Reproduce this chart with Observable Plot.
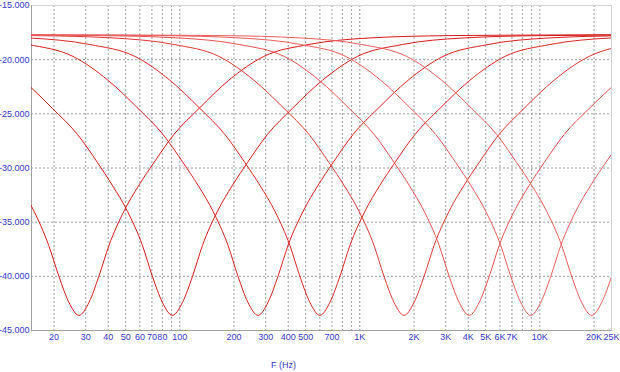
<!DOCTYPE html>
<html><head><meta charset="utf-8">
<script src="https://cdn.jsdelivr.net/npm/d3@7"></script>
<script src="https://cdn.jsdelivr.net/npm/@observablehq/plot@0.6"></script>
<style>body{margin:0;background:#fff}</style>
</head><body><div id="chart"></div>
<script>
const xDomain = [15, 25000];
const yDomain = [-45, -15];
const yTicks = [-45, -40, -35, -30, -25, -20, -15];
const yGridTicks = [-40, -35, -30, -25, -20];
const xLabelTicks = [20, 30, 40, 50, 60, 70, 80, 100, 200, 300, 400, 500, 700, 1000, 2000, 3000, 4000, 5000, 6000, 7000, 10000, 20000, 25000];
const xGridTicks = [20, 30, 40, 50, 60, 70, 80, 90, 100, 200, 300, 400, 500, 600, 700, 800, 900, 1000, 2000, 3000, 4000, 5000, 6000, 7000, 8000, 9000, 10000, 20000];

const notch27 = [[12.8,-31.6],[15.5,-34.0],[18.7,-37.15],[21.3,-40.0],[24.2,-42.4],[27.5,-43.6],[31.3,-42.4],[35.5,-40.0],[40.4,-37.15],[48.9,-34.0],[59.2,-31.6],[71.8,-29.5],[92.8,-26.9],[128,-24.5],[187,-21.9],[293,-19.7],[521,-18.6],[1123,-18.0],[3124,-17.78],[12760,-17.72],[30000,-17.7]];
const notch91 = [[8.5,-19.7],[13.4,-21.9],[19.6,-24.5],[27.0,-26.9],[34.9,-29.5],[42.2,-31.6],[51.2,-34.0],[62.0,-37.15],[70.4,-40.0],[80.0,-42.4],[91,-43.6],[103.5,-42.4],[117.6,-40.0],[133.6,-37.15],[161.8,-34.0],[196,-31.6],[237.5,-29.5],[307,-26.9],[422,-24.5],[620,-21.9],[970,-19.7],[1725,-18.6],[3716,-18.0],[10340,-17.78],[42200,-17.72]];
const notch272 = [[6.66,-18.0],[14.35,-18.6],[25.5,-19.7],[39.9,-21.9],[58.6,-24.5],[80.6,-26.9],[104.2,-29.5],[126.3,-31.6],[153,-34.0],[185.3,-37.15],[210.5,-40.0],[239,-42.4],[272,-43.6],[309,-42.4],[351,-40.0],[399,-37.15],[484,-34.0],[586,-31.6],[710,-29.5],[917,-26.9],[1263,-24.5],[1853,-21.9],[2900,-19.7],[5157,-18.6],[11110,-18.0],[30900,-17.78]];
const notch600 = [[5.28,-17.78],[14.7,-18.0],[31.6,-18.6],[56.3,-19.7],[88.1,-21.9],[129.3,-24.5],[177.9,-26.9],[229.9,-29.5],[278.6,-31.6],[337.5,-34.0],[408.7,-37.15],[464.4,-40.0],[527.7,-42.4],[600,-43.6],[682,-42.4],[775,-40.0],[881,-37.15],[1067,-34.0],[1292,-31.6],[1566,-29.5],[2024,-26.9],[2785,-24.5],[4088,-21.9],[6396,-19.7],[11380,-18.6],[24500,-18.0],[68200,-17.78]];
const notch1760 = [[3.8,-17.72],[15.5,-17.78],[43.1,-18.0],[92.8,-18.6],[165,-19.7],[258,-21.9],[379,-24.5],[522,-26.9],[674,-29.5],[817,-31.6],[990,-34.0],[1199,-37.15],[1362,-40.0],[1548,-42.4],[1760,-43.6],[2001,-42.4],[2274,-40.0],[2584,-37.15],[3129,-34.0],[3791,-31.6],[4594,-29.5],[5936,-26.9],[8170,-24.5],[11990,-21.9],[18760,-19.7],[33370,-18.6]];
const notch4050 = [[8.73,-17.72],[35.7,-17.78],[99.2,-18.0],[213.6,-18.6],[380,-19.7],[594,-21.9],[872,-24.5],[1201,-26.9],[1552,-29.5],[1880,-31.6],[2278,-34.0],[2759,-37.15],[3135,-40.0],[3562,-42.4],[4050,-43.6],[4605,-42.4],[5233,-40.0],[5945,-37.15],[7201,-34.0],[8724,-31.6],[10570,-29.5],[13660,-26.9],[18800,-24.5],[27590,-21.9]];
const notch8900 = [[10,-17.7],[19.2,-17.72],[78.3,-17.78],[218,-18.0],[469,-18.6],[835,-19.7],[1306,-21.9],[1917,-24.5],[2639,-26.9],[3410,-29.5],[4132,-31.6],[5006,-34.0],[6063,-37.15],[6889,-40.0],[7828,-42.4],[8900,-43.6],[10120,-42.4],[11500,-40.0],[13070,-37.15],[15820,-34.0],[19170,-31.6],[23230,-29.5],[30020,-26.9]];
const notch19400 = [[10,-17.7],[41.8,-17.72],[170.8,-17.78],[475,-18.0],[1023,-18.6],[1820,-19.7],[2848,-21.9],[4179,-24.5],[5751,-26.9],[7433,-29.5],[9007,-31.6],[10910,-34.0],[13220,-37.15],[15020,-40.0],[17060,-42.4],[19400,-43.6],[22060,-42.4],[25060,-40.0],[28480,-37.15]];

const seriesNames = ["27", "91", "272", "600", "1760", "4050", "8900", "19400"];
const seriesColors = ["#d81818", "#d81818", "#da1e1e", "#dc2424", "#e23434", "#e85050", "#ec5c5c", "#ec5c5c"];
const seriesData = [notch27, notch91, notch272, notch600, notch1760, notch4050, notch8900, notch19400];

const rows = seriesData.flatMap((d, i) => d.map(([f, db]) => ({series: seriesNames[i], f, db})));
const axisColor = "#3535c8";
const fmtX = f => f >= 1000 ? (f / 1000) + "K" : String(f);

const chart = Plot.plot({
  width: 620, height: 372,
  marginLeft: 31, marginRight: 9, marginTop: 5, marginBottom: 42,
  style: {fontFamily: "'Liberation Sans', Arial, sans-serif", fontSize: "9px", background: "#fff", color: axisColor},
  x: {type: "log", domain: xDomain, axis: null},
  y: {domain: yDomain, axis: null},
  color: {domain: seriesNames, range: seriesColors},
  marks: [
    Plot.gridX({ticks: xGridTicks, stroke: "#9a9a9a", strokeOpacity: 1, strokeDasharray: "2,2"}),
    Plot.gridY({ticks: yGridTicks, stroke: "#9a9a9a", strokeOpacity: 1, strokeDasharray: "2,2"}),
    Plot.frame({stroke: "#d2d2d2"}),
    Plot.ruleX([xDomain[0]], {stroke: "#a0a0a0"}),
    Plot.ruleY([yDomain[0]], {stroke: "#a0a0a0"}),
    Plot.line(rows, {x: "f", y: "db", z: "series", stroke: "series", strokeWidth: 1, curve: "monotone-x", clip: true}),
    Plot.text(yTicks, {y: d => d, text: d => d.toFixed(3), frameAnchor: "left", textAnchor: "end", dx: -2, fill: axisColor, fontSize: 9}),
    Plot.text(xLabelTicks, {x: d => d, text: fmtX, frameAnchor: "bottom", lineAnchor: "top", dy: 3, fill: axisColor, fontSize: 9}),
    Plot.text(["F (Hz)"], {text: d => d, frameAnchor: "bottom", lineAnchor: "middle", dx: -38, dy: 35, fill: axisColor, fontSize: 9})
  ]
});
document.getElementById("chart").appendChild(chart);
</script>
</body></html>
